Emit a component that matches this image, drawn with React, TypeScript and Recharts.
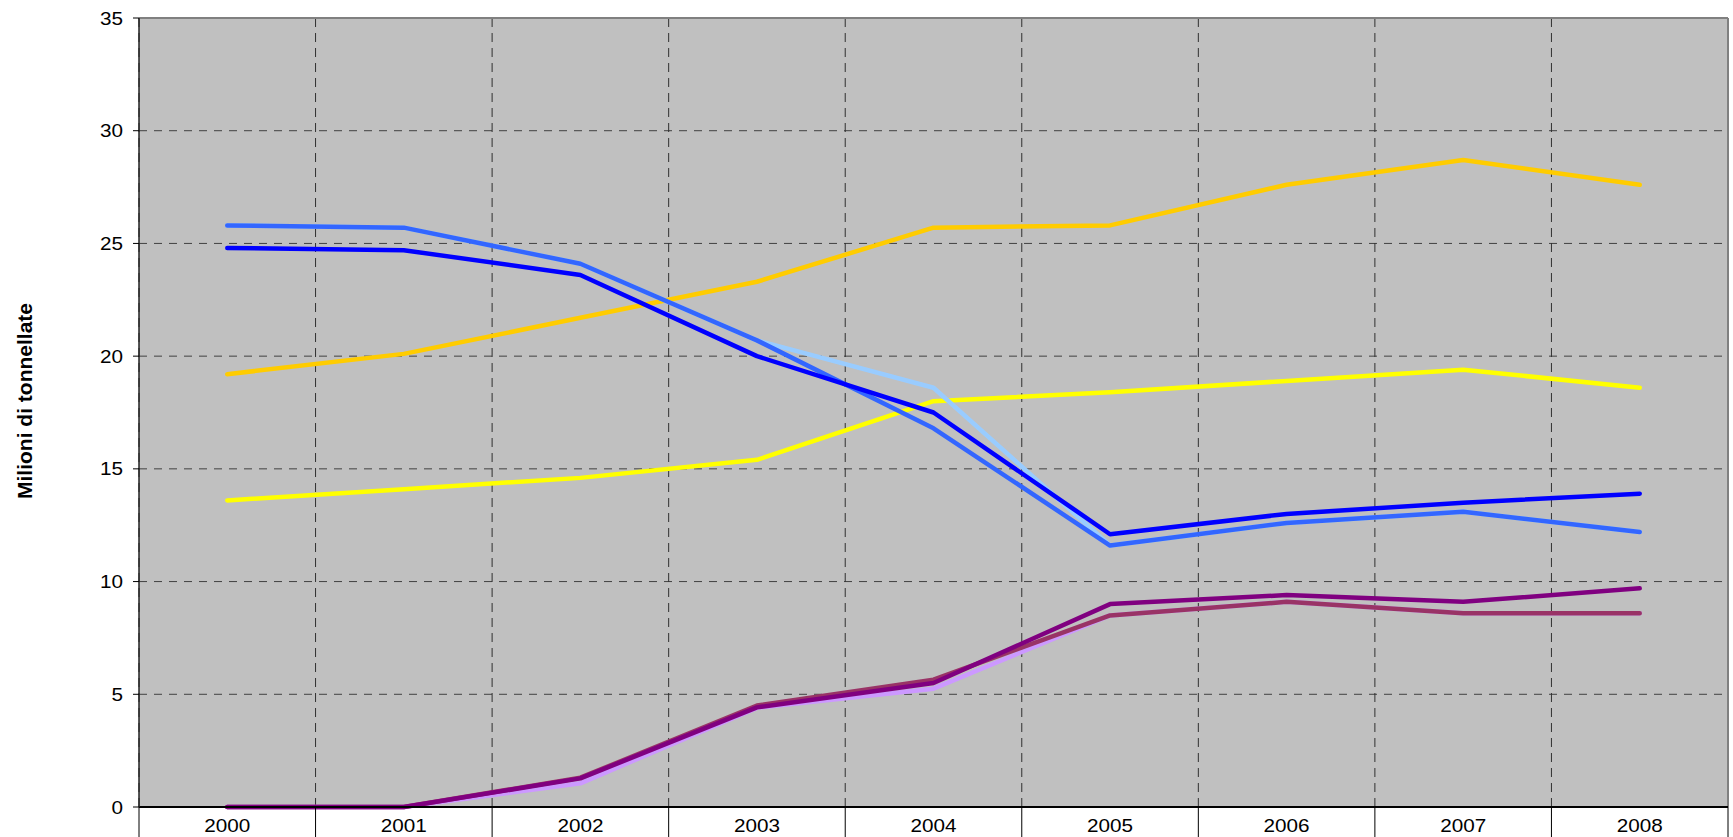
import { LineChart, Line, XAxis, YAxis, CartesianGrid, ReferenceLine, Label } from 'recharts';

const years = ['2000', '2001', '2002', '2003', '2004', '2005', '2006', '2007', '2008'];
const yTicks = [0, 5, 10, 15, 20, 25, 30, 35];

const orange = [19.2, 20.1, 21.7, 23.3, 25.7, 25.8, 27.6, 28.7, 27.6];
const yellow = [13.6, 14.1, 14.6, 15.4, 18.0, 18.4, 18.9, 19.4, 18.6];
const paleBlue = [25.8, 25.7, 24.1, 20.7, 18.6, 11.6, 12.6, 13.1, 12.2];
const midBlue = [25.8, 25.7, 24.1, 20.7, 16.8, 11.6, 12.6, 13.1, 12.2];
const darkBlue = [24.8, 24.7, 23.6, 20.0, 17.5, 12.1, 13.0, 13.5, 13.9];
const lavender = [0, 0, 1.05, 4.4, 5.25, 8.5, 9.1, 8.6, 8.6];
const maroon = [0, 0, 1.3, 4.5, 5.65, 8.5, 9.1, 8.6, 8.6];
const purple = [0, 0, 1.27, 4.42, 5.5, 9.0, 9.4, 9.1, 9.7];

// category bands: boundaries sit half a step either side of each year
const bounds = [...years.map((_, i) => i - 0.5), years.length - 0.5];
const xTicks = [...years.flatMap((_, i) => [i - 0.5, i]), years.length - 0.5];

const data = years.map((year, i) => ({
  i,
  year,
  orange: orange[i],
  yellow: yellow[i],
  paleBlue: paleBlue[i],
  midBlue: midBlue[i],
  darkBlue: darkBlue[i],
  lavender: lavender[i],
  maroon: maroon[i],
  purple: purple[i],
}));

const FONT = '"Liberation Sans", Arial, sans-serif';

const series = [
  { key: 'orange', color: '#FFCC00' },
  { key: 'yellow', color: '#FFFF00' },
  { key: 'paleBlue', color: '#99CCFF' },
  { key: 'midBlue', color: '#3366FF' },
  { key: 'darkBlue', color: '#0000FF' },
  { key: 'lavender', color: '#CC99FF' },
  { key: 'maroon', color: '#993366' },
  { key: 'purple', color: '#800080' },
];

const XTick = (props: any) => {
  const { x, y, payload } = props;
  const v = payload.value;
  if (Number.isInteger(v)) {
    return (
      <text
        transform={`translate(${x},${y + 24.7}) scale(1.15,1)`}
        textAnchor="middle"
        fontFamily={FONT}
        fontSize={18}
        fill="#000"
      >
        {years[v]}
      </text>
    );
  }
  return <line x1={x} x2={x} y1={y} y2={y + 32} stroke="#000" strokeWidth={1} />;
};

const YTick = (props: any) => {
  const { x, y, payload } = props;
  return (
    <text
      transform={`translate(${x},${y + 6.5}) scale(1.15,1)`}
      textAnchor="end"
      fontFamily={FONT}
      fontSize={18}
      fill="#000"
    >
      {payload.value}
    </text>
  );
};

const YTitle = (props: any) => {
  const { viewBox } = props;
  const cx = viewBox.x + 32;
  const cy = viewBox.y + viewBox.height / 2 - 11.5;
  return (
    <text
      transform={`translate(${cx},${cy}) rotate(-90)`}
      textAnchor="middle"
      fontFamily={FONT}
      fontSize={21}
      fontWeight="bold"
      fill="#000"
    >
      Milioni di tonnellate
    </text>
  );
};

export default function App() {
  return (
    <div style={{ position: 'absolute', left: 0, top: 0, background: '#fff' }}>
      <LineChart
        width={1733}
        height={837}
        data={data}
        margin={{ top: 18, right: 5, left: 0, bottom: 0 }}
      >
        <CartesianGrid
          vertical={false}
          fill="#C0C0C0"
          fillOpacity={1}
          stroke="#404040"
          strokeDasharray="8 7"
        />
        <CartesianGrid
          horizontal={false}
          verticalValues={bounds}
          stroke="#303030"
          strokeDasharray="9 6"
        />
        <XAxis
          type="number"
          dataKey="i"
          domain={[-0.5, years.length - 0.5]}
          ticks={xTicks}
          interval={0}
          height={30}
          tickSize={0}
          tickMargin={0}
          tickLine={false}
          axisLine={{ stroke: '#000', strokeWidth: 2 }}
          tick={<XTick />}
        />
        <YAxis
          type="number"
          domain={[0, 35]}
          ticks={yTicks}
          interval={0}
          width={139}
          tickSize={6}
          tickMargin={10}
          tickLine={{ stroke: '#000' }}
          axisLine={{ stroke: '#222', strokeWidth: 1.5 }}
          tick={<YTick />}
        >
          <Label content={<YTitle />} />
        </YAxis>
        <ReferenceLine y={35} stroke="#808080" strokeWidth={2} />
        <ReferenceLine x={years.length - 0.5} stroke="#808080" strokeWidth={2} />
        {series.map(s => (
          <Line
            key={s.key}
            type="linear"
            dataKey={s.key}
            stroke={s.color}
            strokeWidth={4.5}
            strokeLinecap="round"
            strokeLinejoin="round"
            dot={false}
            activeDot={false}
            isAnimationActive={false}
          />
        ))}
      </LineChart>
    </div>
  );
}
